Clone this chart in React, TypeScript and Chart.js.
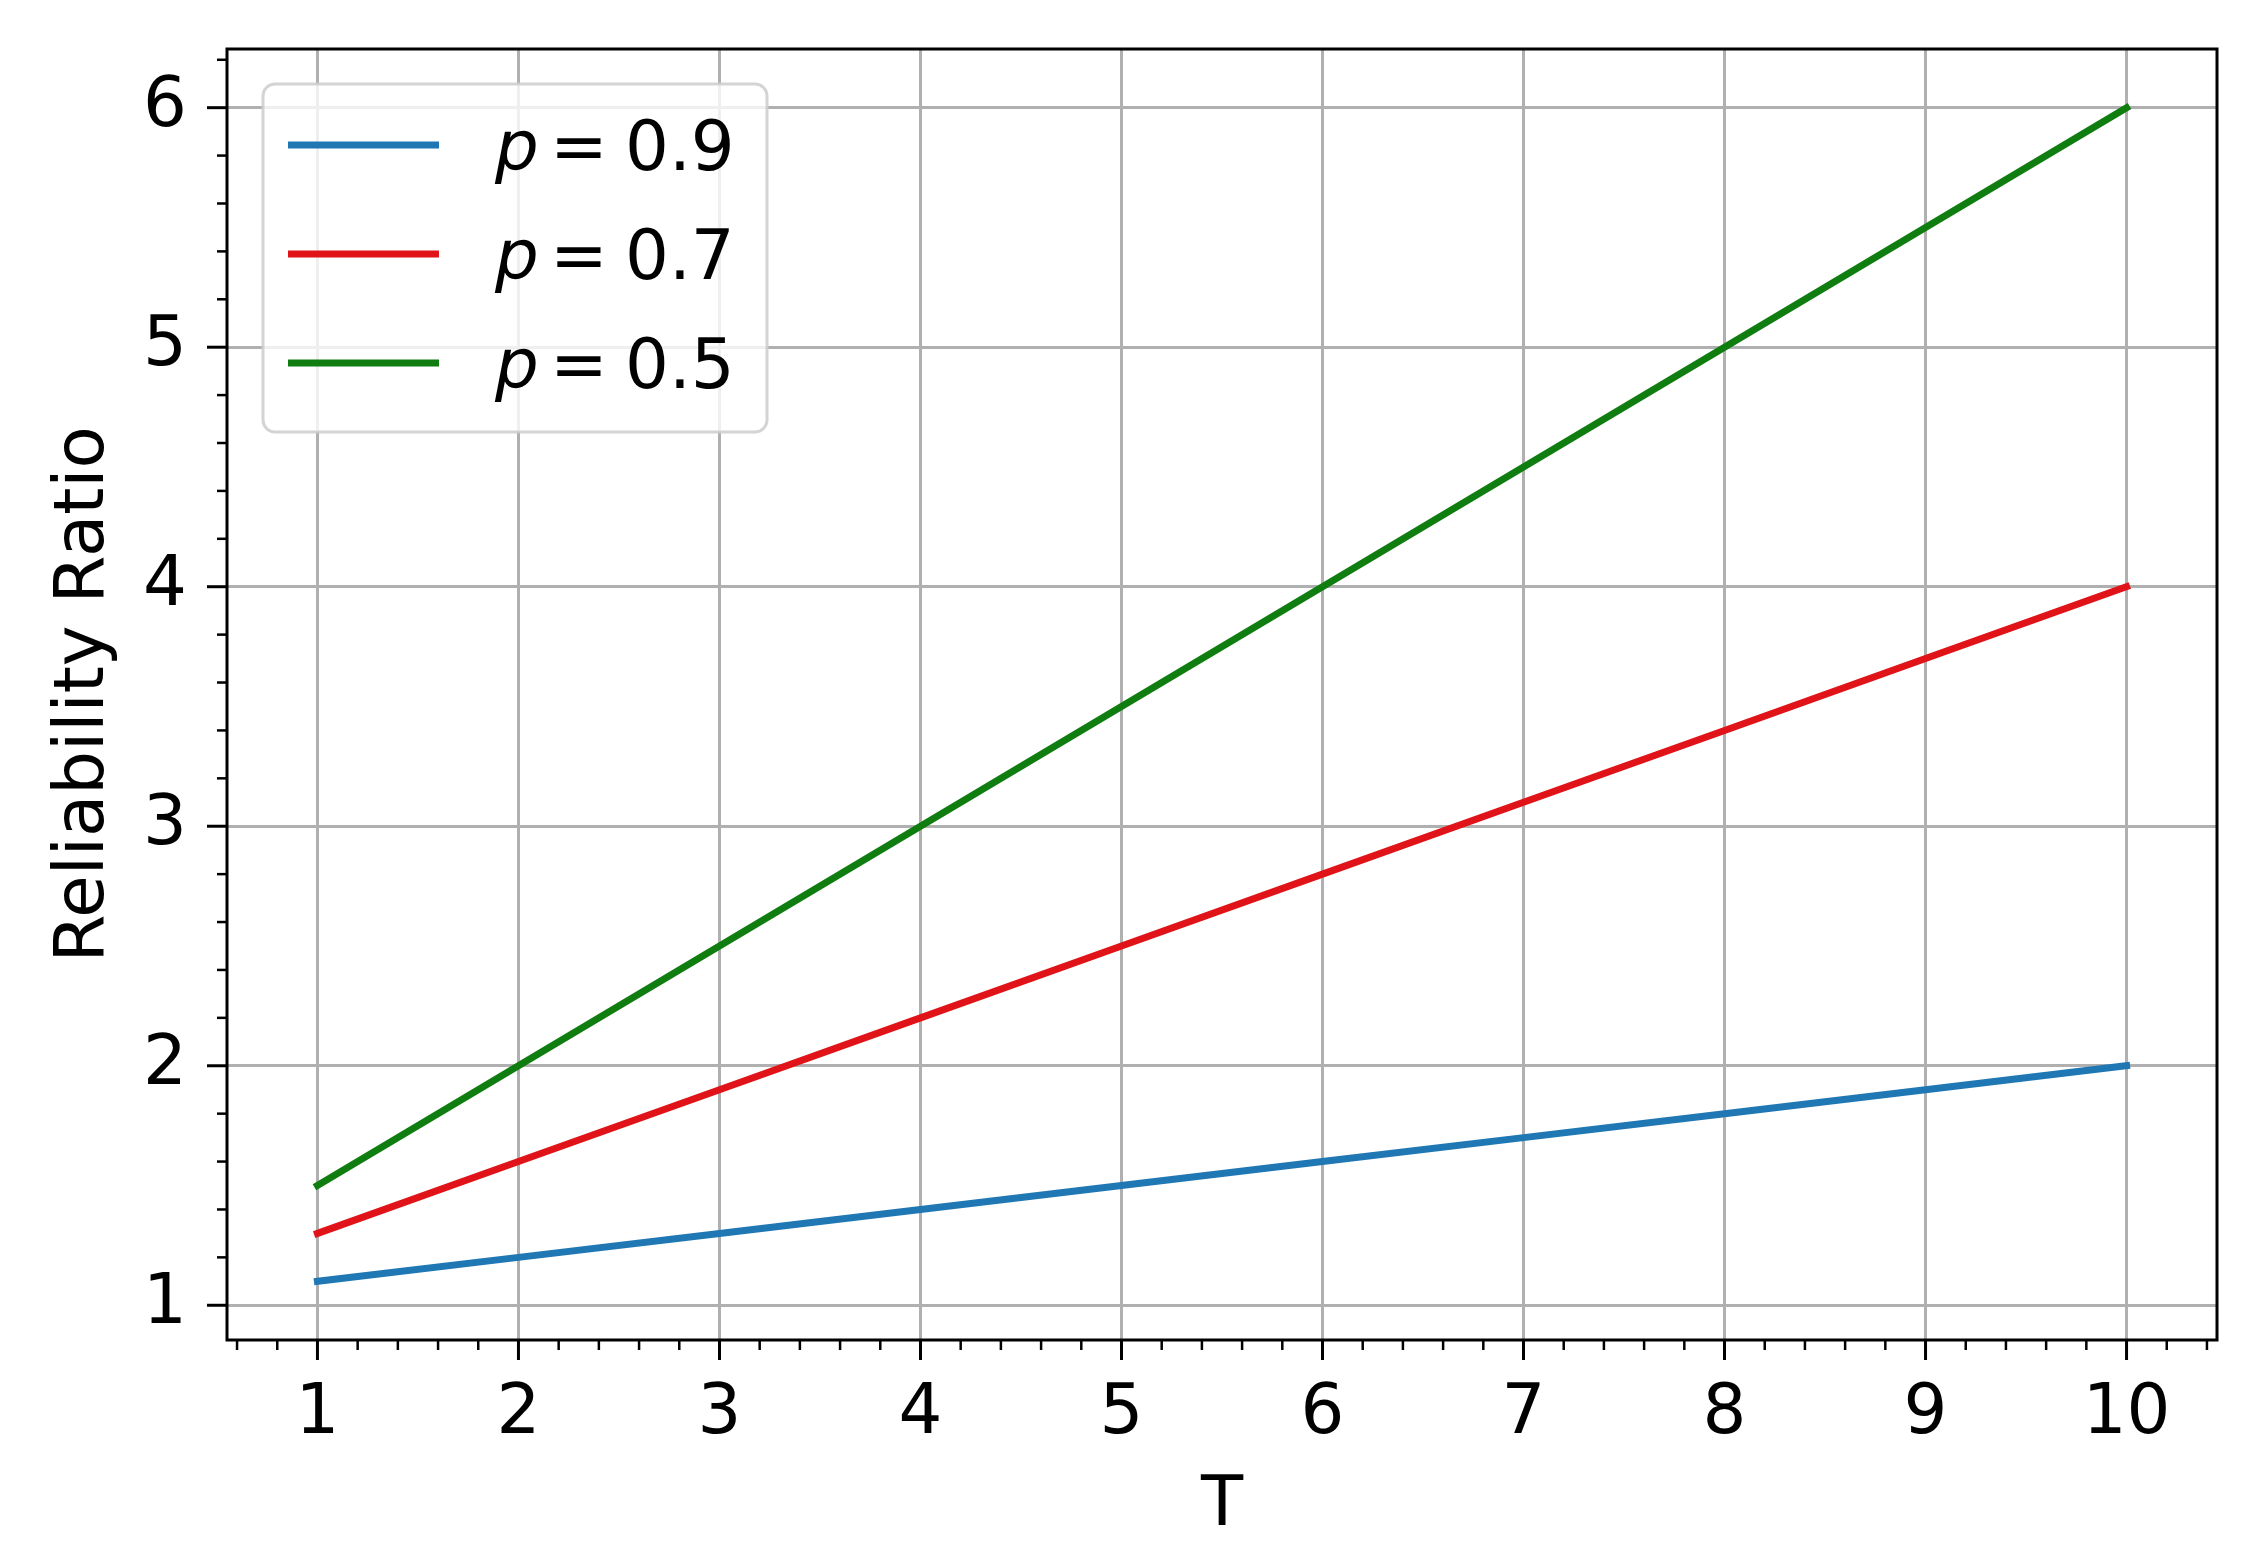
import React, { useEffect, useRef } from "react";
import { Chart, registerables } from "chart.js";

Chart.register(...registerables);

// ---- data ----
const T_VALUES = [1, 2, 3, 4, 5, 6, 7, 8, 9, 10];
const P_VALUES = ["0.9", "0.7", "0.5"];
const RATIO_P09 = [1.1, 1.2, 1.3, 1.4, 1.5, 1.6, 1.7, 1.8, 1.9, 2.0];
const RATIO_P07 = [1.3, 1.6, 1.9, 2.2, 2.5, 2.8, 3.1, 3.4, 3.7, 4.0];
const RATIO_P05 = [1.5, 2.0, 2.5, 3.0, 3.5, 4.0, 4.5, 5.0, 5.5, 6.0];
const SERIES = [RATIO_P09, RATIO_P07, RATIO_P05];
const COLORS = ["#1f77b4", "#e01318", "#0f7d0f"];
const X_TICKS = [1, 2, 3, 4, 5, 6, 7, 8, 9, 10];
const Y_TICKS = [1, 2, 3, 4, 5, 6];
const X_RANGE = [0.55, 10.45];
const Y_RANGE = [0.855, 6.245];
const MINOR_STEP = 0.2;
const X_TITLE = "T";
const Y_TITLE = "Reliability Ratio";

const FAMILY = '"DejaVu Sans", sans-serif';
const FS = 69;
const LINE_W = 7;

const frameTicksPlugin = {
  id: "frameTicks",
  afterDatasetsDraw(chart: any) {
    const { ctx, chartArea: a, scales } = chart;
    const xs = scales.x;
    const ys = scales.y;
    ctx.save();
    ctx.strokeStyle = "#000";
    ctx.lineCap = "butt";
    const line = (x1: number, y1: number, x2: number, y2: number, w: number) => {
      ctx.lineWidth = w;
      ctx.beginPath();
      ctx.moveTo(x1, y1);
      ctx.lineTo(x2, y2);
      ctx.stroke();
    };
    for (let i = Math.ceil(xs.min / MINOR_STEP - 1e-9); i * MINOR_STEP <= xs.max + 1e-9; i++) {
      const v = i * MINOR_STEP;
      const major = Math.abs(v - Math.round(v)) < 1e-6;
      const px = xs.getPixelForValue(v);
      line(px, a.bottom, px, a.bottom + (major ? 20 : 10), major ? 3 : 2.5);
    }
    for (let i = Math.ceil(ys.min / MINOR_STEP - 1e-9); i * MINOR_STEP <= ys.max + 1e-9; i++) {
      const v = i * MINOR_STEP;
      const major = Math.abs(v - Math.round(v)) < 1e-6;
      const py = ys.getPixelForValue(v);
      line(a.left, py, a.left - (major ? 20 : 10), py, major ? 3 : 2.5);
    }
    ctx.lineWidth = 3;
    ctx.lineJoin = "miter";
    ctx.strokeRect(a.left, a.top, a.right - a.left, a.bottom - a.top);
    ctx.restore();
  },
  afterDraw(chart: any) {
    const { ctx, chartArea: a } = chart;
    const lx = a.left + 36;
    const ly = a.top + 35;
    const lw = 504;
    const lh = 348;
    ctx.save();
    ctx.beginPath();
    ctx.roundRect(lx, ly, lw, lh, 12);
    ctx.fillStyle = "rgba(255,255,255,0.8)";
    ctx.fill();
    ctx.lineWidth = 3;
    ctx.strokeStyle = "rgba(204,204,204,0.85)";
    ctx.stroke();
    chart.data.datasets.forEach((ds: any, i: number) => {
      const cy = ly + 61 + i * 109;
      ctx.strokeStyle = ds.borderColor;
      ctx.lineWidth = LINE_W;
      ctx.lineCap = "butt";
      ctx.beginPath();
      ctx.moveTo(lx + 25, cy);
      ctx.lineTo(lx + 176, cy);
      ctx.stroke();
      ctx.fillStyle = "#000";
      ctx.textBaseline = "alphabetic";
      ctx.textAlign = "left";
      const base = cy + 25;
      ctx.font = `italic ${FS}px ${FAMILY}`;
      ctx.fillText("p", lx + 232, base);
      ctx.font = `${FS}px ${FAMILY}`;
      ctx.fillText("=", lx + 287, base);
      ctx.fillText(P_VALUES[i], lx + 362, base);
    });
    ctx.restore();
  },
};

export default function App() {
  const ref = useRef<HTMLCanvasElement>(null);
  useEffect(() => {
    document.body.style.margin = "0";
    document.body.style.overflow = "hidden";
    const datasets = SERIES.map((vals, i) => ({
      label: `p = ${P_VALUES[i]}`,
      data: T_VALUES.map((t, j) => ({ x: t, y: vals[j] })),
      borderColor: COLORS[i],
      backgroundColor: COLORS[i],
      borderWidth: LINE_W,
      borderCapStyle: "square" as const,
      pointRadius: 0,
      tension: 0,
      fill: false,
    }));
    const tickFont = { family: FAMILY, size: FS };
    const chart = new Chart(ref.current!, {
      type: "line",
      data: { datasets },
      plugins: [frameTicksPlugin],
      options: {
        animation: false,
        responsive: false,
        devicePixelRatio: 1,
        layout: { padding: { left: 0, right: 31, top: 49, bottom: 0 } },
        plugins: { legend: { display: false }, tooltip: { enabled: false } },
        scales: {
          x: {
            type: "linear",
            min: X_RANGE[0],
            max: X_RANGE[1],
            afterBuildTicks: (s: any) => {
              s.ticks = X_TICKS.map((v) => ({ value: v }));
            },
            afterFit: (s: any) => {
              s.height = 220;
              s.paddingLeft = 0;
              s.paddingRight = 0;
            },
            ticks: {
              autoSkip: false,
              maxRotation: 0,
              padding: 34,
              color: "#000",
              font: tickFont,
              callback: (v: any) => String(v),
            },
            grid: { color: "#b0b0b0", lineWidth: 3, drawTicks: false },
            border: { display: false },
            title: {
              display: true,
              text: X_TITLE,
              color: "#000",
              font: tickFont,
              padding: { top: 0, bottom: 12 },
            },
          },
          y: {
            type: "linear",
            min: Y_RANGE[0],
            max: Y_RANGE[1],
            afterBuildTicks: (s: any) => {
              s.ticks = Y_TICKS.map((v) => ({ value: v }));
            },
            afterFit: (s: any) => {
              s.width = 227;
              s.paddingTop = 0;
              s.paddingBottom = 0;
            },
            ticks: {
              autoSkip: false,
              padding: 40,
              color: "#000",
              font: tickFont,
              callback: (v: any) => String(v),
            },
            grid: { color: "#b0b0b0", lineWidth: 3, drawTicks: false },
            border: { display: false },
            title: {
              display: true,
              text: Y_TITLE,
              color: "#000",
              font: tickFont,
              padding: { top: 44, bottom: 0 },
            },
          },
        },
      },
    });
    return () => chart.destroy();
  }, []);
  return (
    <div style={{ width: 2248, height: 1560 }}>
      <canvas ref={ref} width={2248} height={1560} style={{ display: "block", width: 2248, height: 1560 }} />
    </div>
  );
}
